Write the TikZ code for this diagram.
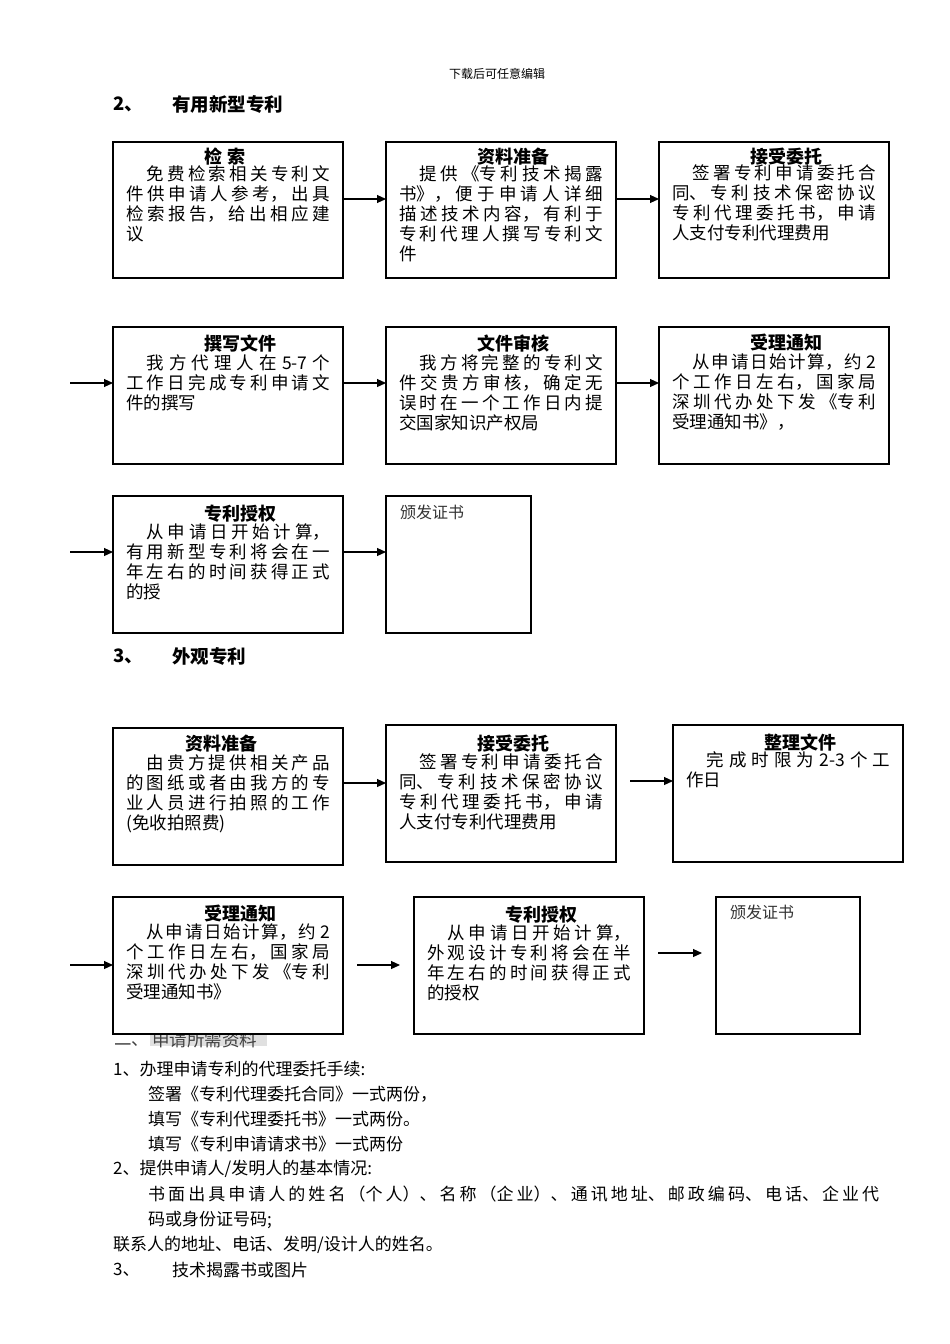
\documentclass[tikz,border=0pt]{standalone}
\usepackage{fontspec}
\setmainfont{Noto Sans CJK SC}
\usetikzlibrary{arrows.meta}
\XeTeXlinebreaklocale "zh"
\XeTeXlinebreakskip=0pt plus 8pt
\tolerance=10000
\hbadness=10000
\newcommand\bodyfnt{\fontsize{17.5}{20}\selectfont}
\newcommand\titlefnt{\fontsize{18}{20}\selectfont\bfseries}
\newcommand\textfnt{\fontsize{17}{25.5}\selectfont}
\tikzset{
  box/.style={draw, line width=1.1pt, fill=white, minimum width=230pt, minimum height=137pt, anchor=north west, inner sep=0pt, outer sep=0pt},
  bodytxt/.style={anchor=north west, inner sep=0pt, text width=204pt, align=justify, font=\bodyfnt},
  ttl/.style={inner sep=0pt, font=\titlefnt},
  arr/.style={-{Triangle[length=9pt,width=8pt]}, line width=1.1pt},
  plain/.style={anchor=west, inner sep=0pt, font=\textfnt},
  head/.style={anchor=west, inner sep=0pt, font=\fontsize{18.5}{20}\selectfont\bfseries}
}
% #1 name, #2 position, #3 title dx, #4 title dy, #5 body dy, #6 title, #7 body, #8 box options
\newcommand\flowbox[8]{%
  \node[box,#8] (#1) at #2 {};
  \node[ttl] (#1t) at ([xshift=#3pt,yshift=-#4pt]#1.north) {#6};
  \node[bodytxt] (#1b) at ([xshift=13pt,yshift=-#5pt]#1.north west) {#7};%
}
\begin{document}
\begin{tikzpicture}[x=1pt,y=-1pt]
\useasboundingbox[fill=white] (0,0) rectangle (950,1344);

\node[inner sep=0pt, font=\fontsize{12}{14}\selectfont] (hdr) at (497,74) {下载后可任意编辑};
\node[head] (h2n) at (113,104) {2、};
\node[head] (h2t) at (172,104) {有用新型专利};

% row 1
\flowbox{A}{(113,142)}{-3}{14.5}{23}{检\ 索}{\hspace*{20.5pt}免费检索相关专利文\linebreak 件供申请人参考，出具\linebreak 检索报告，给出相应建\linebreak 议}{minimum height=136pt}
\flowbox{B}{(386,142)}{12}{14.5}{23}{资料准备}{\hspace*{20.5pt}提供《专利技术揭露\linebreak 书》，便于申请人详细\linebreak 描述技术内容，有利于\linebreak 专利代理人撰写专利文\linebreak 件}{minimum height=136pt}
\flowbox{C}{(659,142)}{12}{14.5}{23}{接受委托}{\hspace*{20.5pt}签署专利申请委托合\linebreak 同、专利技术保密协议\linebreak 专利代理委托书，申请\linebreak 人支付专利代理费用}{minimum height=136pt}
\draw[arr] (A.east |- 0,199) -- (B.west |- 0,199);
\draw[arr] (B.east |- 0,199) -- (C.west |- 0,199);

% row 2
\flowbox{D}{(113,327)}{12}{17}{27.5}{撰写文件}{\hspace*{20.5pt}我方代理人在 5-7 个\linebreak 工作日完成专利申请文\linebreak 件的撰写}{}
\flowbox{E}{(386,327)}{12}{17}{27.5}{文件审核}{\hspace*{20.5pt}我方将完整的专利文\linebreak 件交贵方审核，确定无\linebreak 误时在一个工作日内提\linebreak 交国家知识产权局}{}
\flowbox{F}{(659,327)}{12}{16}{27}{受理通知}{\hspace*{20.5pt}从申请日始计算，约 2\linebreak 个工作日左右，国家局\linebreak 深圳代办处下发《专利\linebreak 受理通知书》，}{}
\coordinate (inD) at (70,383);
\draw[arr] (inD) -- (D.west |- inD);
\draw[arr] (D.east |- inD) -- (E.west |- inD);
\draw[arr] (E.east |- inD) -- (F.west |- inD);

% row 3
\flowbox{G}{(113,496)}{12}{17.5}{27.5}{专利授权}{\hspace*{20.5pt}从申请日开始计算，\linebreak 有用新型专利将会在一\linebreak 年左右的时间获得正式\linebreak 的授}{}
\node[box, minimum width=145pt] (H) at (386,496) {};
\node[anchor=west, inner sep=0pt, font=\fontsize{16}{18}\selectfont, text=black!80] (Ht) at (400,512) {颁发证书};
\coordinate (inG) at (70,552);
\draw[arr] (inG) -- (G.west |- inG);
\draw[arr] (G.east |- inG) -- (H.west |- inG);

\node[head] (h3n) at (113,656) {3、};
\node[head] (h3t) at (172,656) {外观专利};

% row 4
\flowbox{I}{(113,728)}{-7}{16}{26.5}{资料准备}{\hspace*{20.5pt}由贵方提供相关产品\linebreak 的图纸或者由我方的专\linebreak 业人员进行拍照的工作\linebreak (免收拍照费)}{}
\flowbox{J}{(386,725)}{12}{18.5}{29}{接受委托}{\hspace*{20.5pt}签署专利申请委托合\linebreak 同、专利技术保密协议\linebreak 专利代理委托书，申请\linebreak 人支付专利代理费用}{}
\flowbox{K}{(673,725)}{12}{17.5}{26.5}{整理文件}{\hspace*{20.5pt}完成时限为 2-3 个工\linebreak 作日}{}
\draw[arr] (I.east |- 0,783) -- (J.west |- 0,783);
\coordinate (jk) at (630,781);
\draw[arr] (jk) -- (K.west |- jk);

% section 二 (partly hidden behind box L)
\fill[black!12] (150,1031) rectangle (267,1046);
\node[plain, font=\fontsize{17.5}{20}\selectfont, text=black!75] (s2n) at (114,1040) {二、};
\node[plain, font=\fontsize{17.5}{20}\selectfont, text=black!75] (s2t) at (152,1040) {申请所需资料};

% row 5
\flowbox{L}{(113,897)}{12}{16.5}{26.5}{受理通知}{\hspace*{20.5pt}从申请日始计算，约 2\linebreak 个工作日左右，国家局\linebreak 深圳代办处下发《专利\linebreak 受理通知书》}{}
\flowbox{M}{(414,897)}{12}{17.5}{27.5}{专利授权}{\hspace*{20.5pt}从申请日开始计算，\linebreak 外观设计专利将会在半\linebreak 年左右的时间获得正式\linebreak 的授权}{}
\node[box, minimum width=144pt] (N) at (716,897) {};
\node[anchor=west, inner sep=0pt, font=\fontsize{16}{18}\selectfont, text=black!80] (Nt) at (730,912) {颁发证书};
\coordinate (inL) at (70,965);
\draw[arr] (inL) -- (L.west |- inL);
\coordinate (lm1) at (357,965);
\coordinate (lm2) at (400,965);
\draw[arr] (lm1) -- (lm2);
\coordinate (mn1) at (658,953);
\coordinate (mn2) at (702,953);
\draw[arr] (mn1) -- (mn2);

% bottom text
\node[plain] (t1) at (113,1069) {1、办理申请专利的代理委托手续:};
\node[plain] (t2) at (148,1094) {签署《专利代理委托合同》一式两份，};
\node[plain] (t3) at (148,1119) {填写《专利代理委托书》一式两份。};
\node[plain] (t4) at (148,1144) {填写《专利申请请求书》一式两份};
\node[plain] (t5) at (113,1169) {2、提供申请人/发明人的基本情况:};
\node[anchor=north west, inner sep=0pt, text width=731pt, align=justify, font=\textfnt] (t6) at (148,1185.5) {书面出具申请人的姓名（个人）、名称（企业）、通讯地址、邮政编码、电话、企业代\linebreak 码或身份证号码;};
\node[plain] (t8) at (113,1245) {联系人的地址、电话、发明/设计人的姓名。};
\node[plain] (t9) at (113,1270) {3、};
\node[plain] (t9b) at (172,1270) {技术揭露书或图片};
\end{tikzpicture}
\end{document}
